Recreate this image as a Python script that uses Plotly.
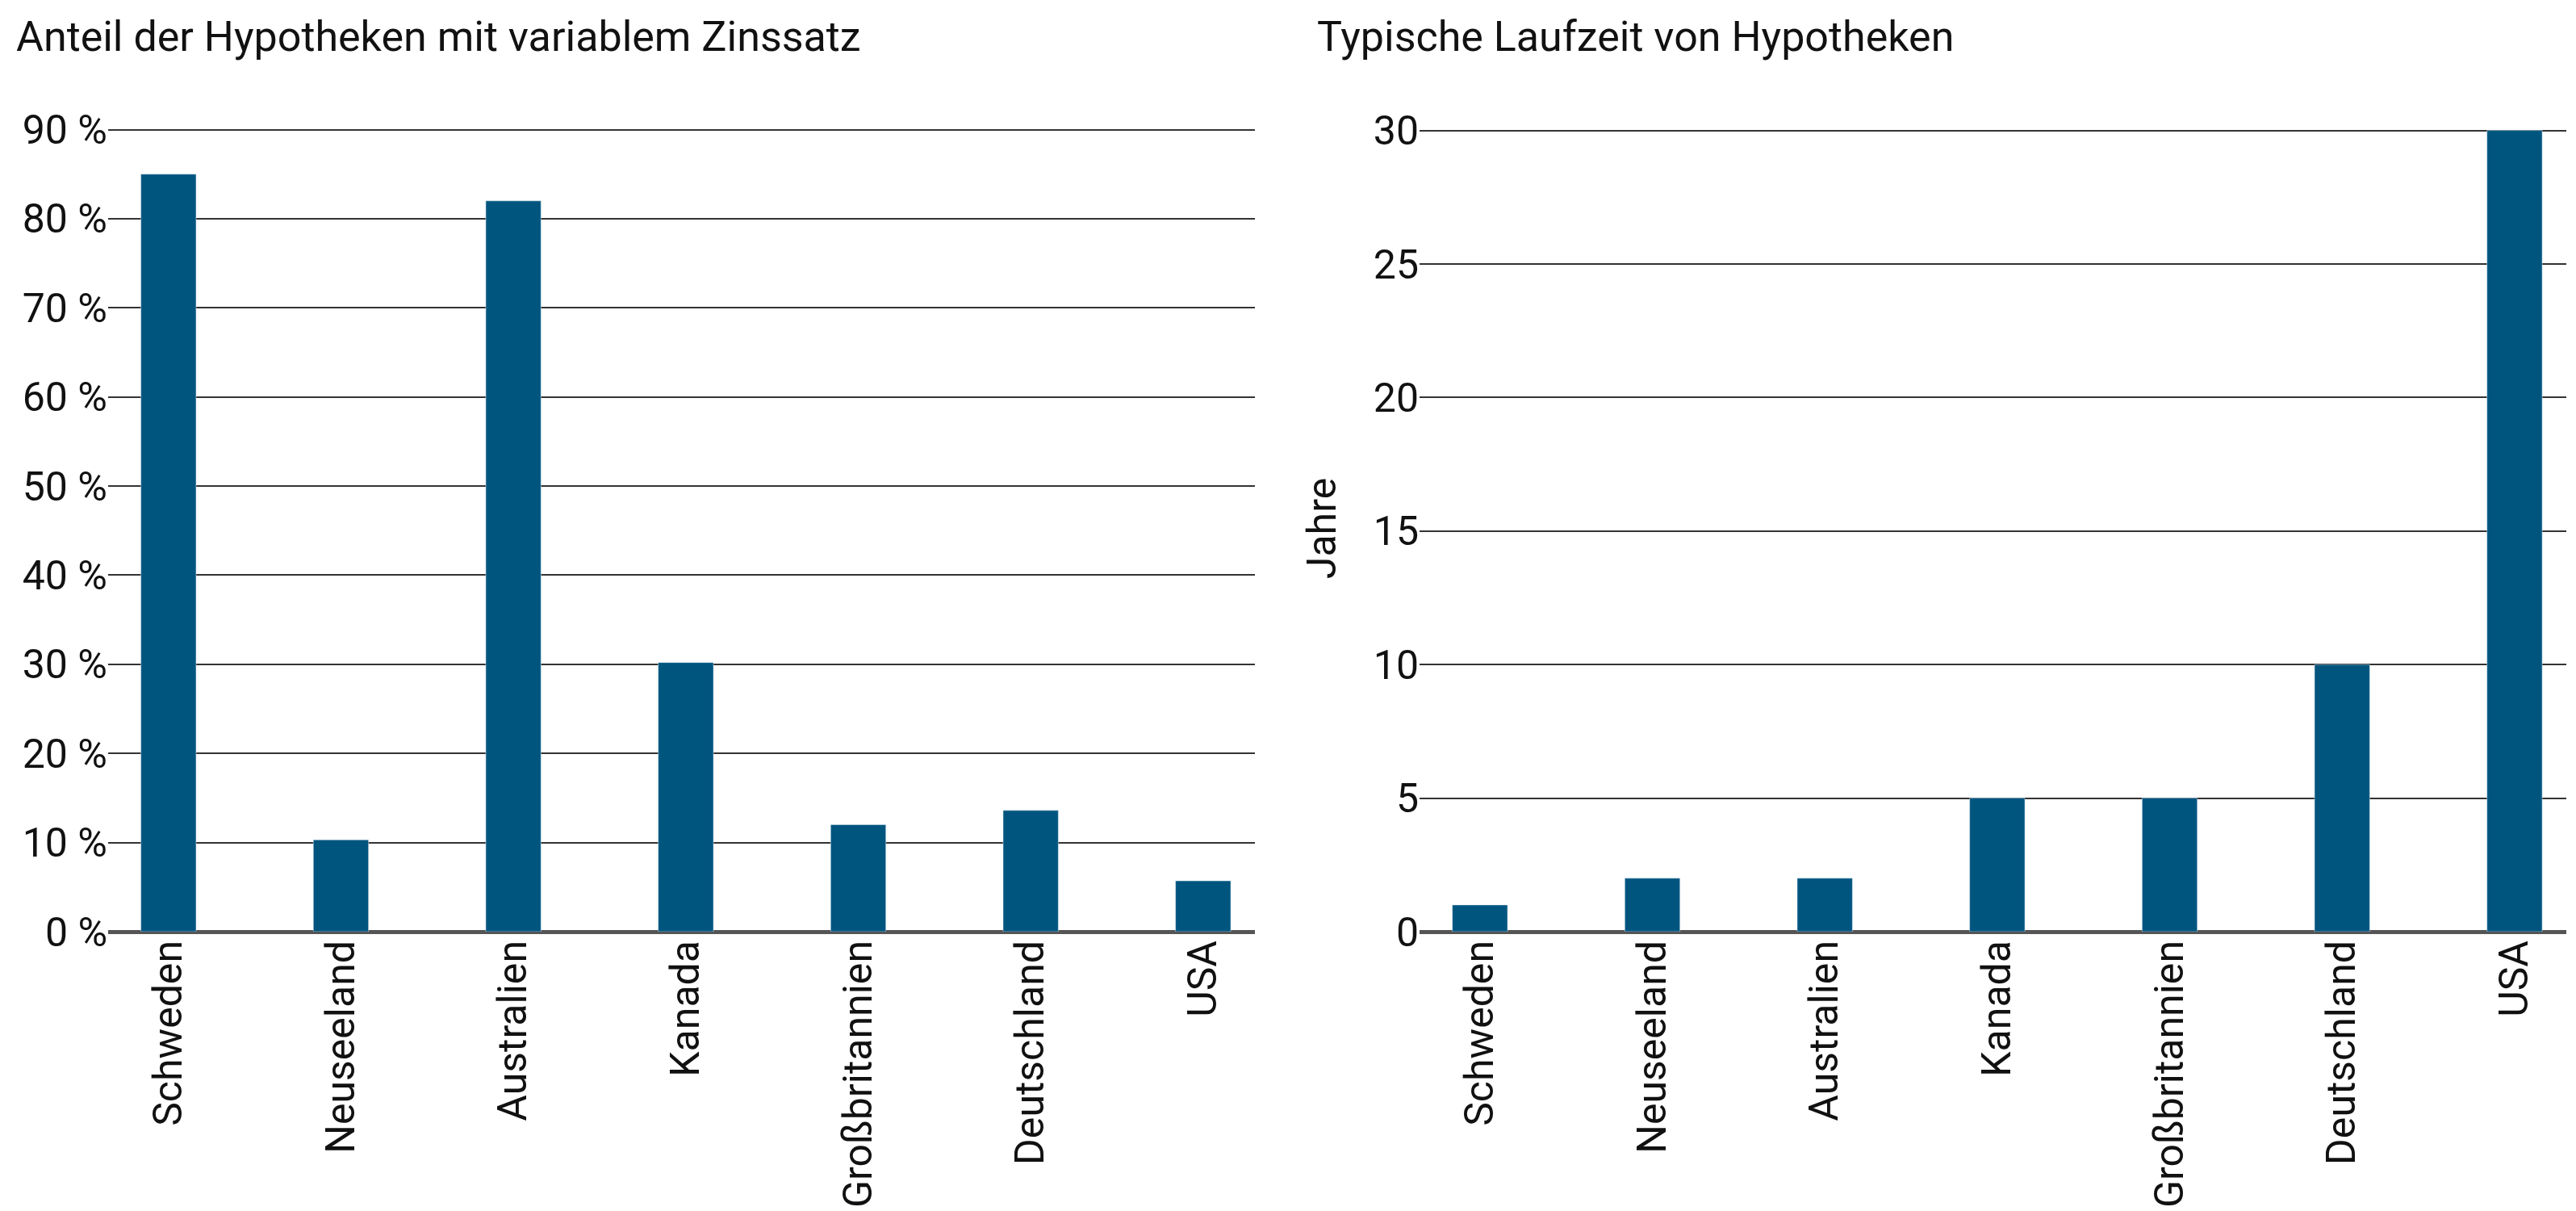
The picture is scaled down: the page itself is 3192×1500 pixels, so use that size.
import plotly.graph_objects as go
from plotly.subplots import make_subplots

# Daten
laender = ["Schweden", "Neuseeland", "Australien", "Kanada", "Großbritannien", "Deutschland", "USA"]
anteil_variabel = [85, 10.3, 82, 30.2, 12, 13.6, 5.7]
laufzeit_jahre = [1, 2, 2, 5, 5, 10, 30]

BAR_COLOR = "#00557f"
FONT = "Liberation Sans Narrow, Roboto, sans-serif"

fig = make_subplots(rows=1, cols=2, horizontal_spacing=0.067)

fig.add_trace(go.Bar(x=laender, y=anteil_variabel, marker_color=BAR_COLOR, width=0.32), row=1, col=1)
fig.add_trace(go.Bar(x=laender, y=laufzeit_jahre, marker_color=BAR_COLOR, width=0.32), row=1, col=2)

axis_common = dict(
    showgrid=True, gridcolor="#333333", gridwidth=2,
    zeroline=True, zerolinecolor="#555555", zerolinewidth=5,
    ticks="", tickfont=dict(size=50, color="#111111"), showline=False,
)
fig.update_yaxes(range=[0, 90.5], dtick=10, ticksuffix=" %", **axis_common, row=1, col=1)
fig.update_yaxes(range=[0, 30.2], dtick=5, title=dict(text="Jahre", font=dict(size=50, color="#111111"), standoff=30),
                 **axis_common, row=1, col=2)
fig.update_xaxes(tickangle=-90, tickfont=dict(size=50, color="#111111"), range=[-0.35, 6.3],
                 showgrid=False, ticks="", showline=False)

fig.update_layout(
    width=3192, height=1500,
    margin=dict(l=126, r=20, t=147, b=352),
    paper_bgcolor="white", plot_bgcolor="white",
    font=dict(family=FONT, color="#111111"),
    showlegend=False,
    annotations=[
        dict(text="Anteil der Hypotheken mit variablem Zinssatz", x=0.0, y=1.0, xref="paper", yref="paper",
             xanchor="left", yanchor="middle", showarrow=False, font=dict(size=52), xshift=-116, yshift=110),
        dict(text="Typische Laufzeit von Hypotheken", x=0.491, y=1.0, xref="paper", yref="paper",
             xanchor="left", yanchor="middle", showarrow=False, font=dict(size=52), yshift=110),
    ],
)

fig.write_html("out.html")
